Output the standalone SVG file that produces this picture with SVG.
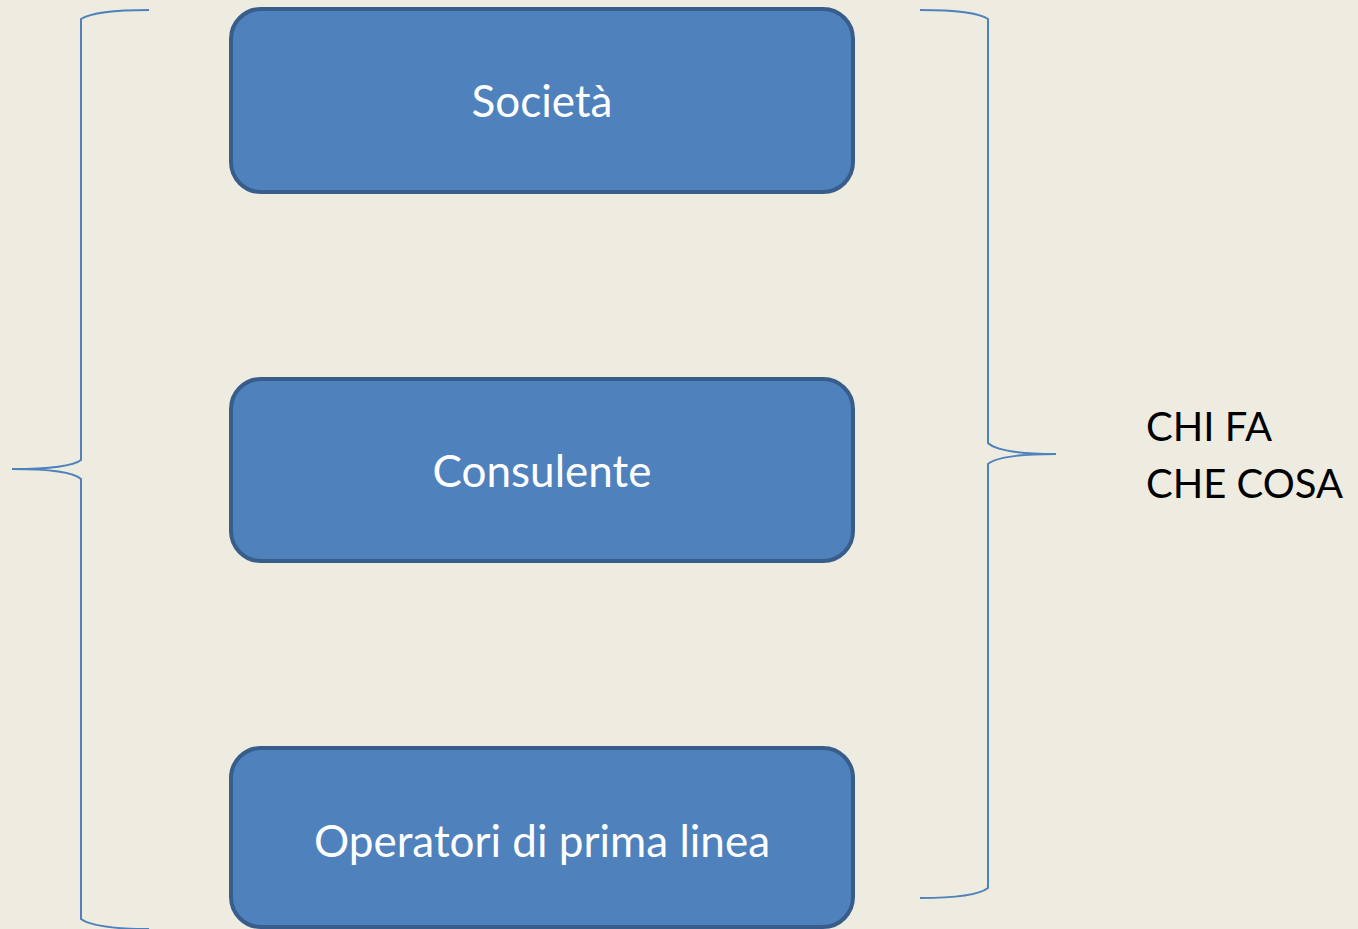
<svg xmlns="http://www.w3.org/2000/svg" width="1358" height="929" viewBox="0 0 1358 929">
<style>
.box{fill:#4f81bd;stroke:#385d8a;stroke-width:4}
.lbl{fill:#ffffff;font-family:Lato,"Open Sans","Liberation Sans",sans-serif;font-size:44px;text-anchor:middle}
.brace{fill:none;stroke:#4f81bd;stroke-width:2}
.side{fill:#000000;font-family:Lato,"Open Sans","Liberation Sans",sans-serif;font-size:40px}
</style>
<rect x="0" y="0" width="1358" height="929" fill="#eeece1"/>
<g id="connectors">
<path class="brace" d="M149,10 Q95,10 81,19 L81,460 Q70,469 12,469 Q70,469 81,479 L81,919 Q95,929 149,929"/>
<path class="brace" d="M920,10 Q975,10 988,19 L988,443 Q1000,454 1056,454 Q1000,454 988,464 L988,888 Q975,898 920,898"/>
</g>
<g id="societa">
<rect class="box" x="231" y="9" width="622" height="183" rx="30"/>
<text class="lbl" x="542" y="117">Società</text>
</g>
<g id="consulente">
<rect class="box" x="231" y="379" width="622" height="182" rx="30"/>
<text class="lbl" x="542" y="487">Consulente</text>
</g>
<g id="operatori">
<rect class="box" x="231" y="748" width="622" height="179" rx="30"/>
<text class="lbl" x="542" y="857">Operatori di prima linea</text>
</g>
<g id="chi-fa">
<text class="side" x="1146" y="441">CHI FA</text>
<text class="side" x="1146" y="498">CHE COSA</text>
</g>
</svg>
